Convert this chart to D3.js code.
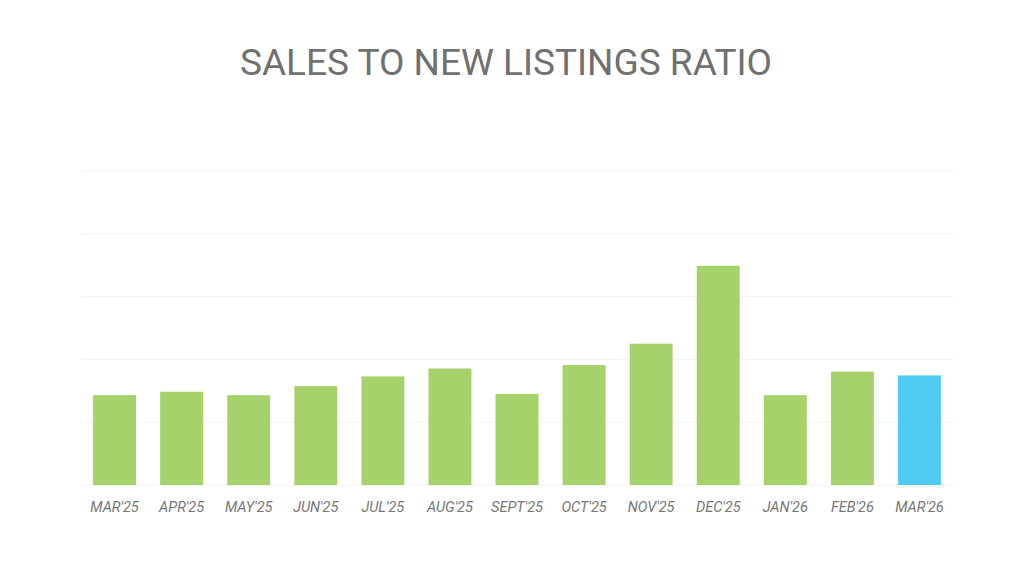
<!DOCTYPE html>
<html><head><meta charset="utf-8">
<script src="https://cdn.jsdelivr.net/npm/d3@7"></script>
<style>body{margin:0;background:#fff;font-family:Roboto,sans-serif}</style>
</head><body><svg id="c" width="1024" height="576"></svg>
<script>
const categories=["MAR'25","APR'25","MAY'25","JUN'25","JUL'25","AUG'25","SEPT'25","OCT'25","NOV'25","DEC'25","JAN'26","FEB'26","MAR'26"];
const values=[28.6,29.7,28.6,31.5,34.6,37.1,29.0,38.2,45.0,69.8,28.6,36.1,34.9];
const gridTicks=[0,20,40,60,80,100];
const svg=d3.select("#c");
const x=d3.scaleBand().domain(categories).range([81,953]).paddingInner(0.36).paddingOuter(0.18);
const y=d3.scaleLinear().domain([0,100]).range([485,171]);
svg.append("text").attr("x",506).attr("y",75).attr("text-anchor","middle").attr("font-size",37).attr("fill","#707070").text("SALES TO NEW LISTINGS RATIO");
svg.selectAll(".g").data(gridTicks).join("line").attr("x1",81).attr("x2",953).attr("y1",d=>y(d)).attr("y2",d=>y(d)).attr("stroke","#f2f2f2");
const defs=svg.append("defs");
categories.forEach((c,i)=>{defs.append("clipPath").attr("id","cl"+i).append("rect").attr("x",x(c)).attr("y",y(values[i])).attr("width",x.bandwidth()).attr("height",y(0)-y(values[i]));});
svg.selectAll(".b").data(categories).join("rect").attr("x",d=>x(d)).attr("y",(d,i)=>y(values[i])).attr("width",x.bandwidth()).attr("height",(d,i)=>y(0)-y(values[i])).attr("fill",(d,i)=>i===12?"#4fcbf3":"#a6d26c");
svg.selectAll(".l").data(categories).join("text").attr("clip-path",(d,i)=>`url(#cl${i})`)
 .attr("transform",d=>`translate(${x(d)+x.bandwidth()/2+10},463) rotate(-90)`)
 .attr("font-size",28).attr("font-weight","bold").attr("fill","#fff").text((d,i)=>values[i].toFixed(1)+"%");
svg.selectAll(".a").data(categories).join("text").attr("x",d=>x(d)+x.bandwidth()/2).attr("y",512).attr("text-anchor","middle").attr("font-size",14.5).attr("font-style","italic").attr("fill","#777").text(d=>d);
</script></body></html>
